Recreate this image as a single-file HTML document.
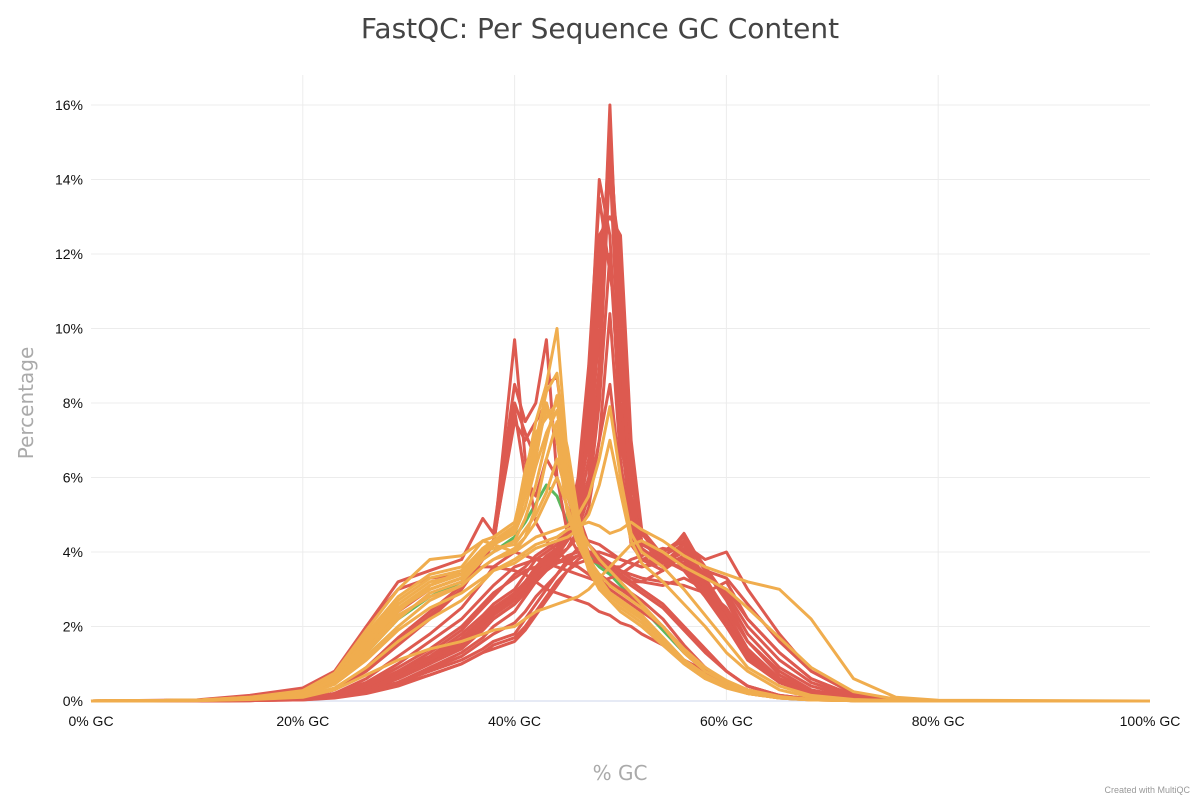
<!DOCTYPE html>
<html><head><meta charset="utf-8"><style>
body{margin:0;background:#fff;font-family:"Liberation Sans",sans-serif}
</style></head><body>
<svg id="chart" width="1200" height="800" xmlns="http://www.w3.org/2000/svg">
<text x="600" y="38" text-anchor="middle" font-size="28" fill="#444" font-family="DejaVu Sans, sans-serif">FastQC: Per Sequence GC Content</text>
<g id="grid"></g><g id="lines"></g><g id="axes"></g>
<text transform="translate(33,403) rotate(-90)" text-anchor="middle" font-size="20" fill="#aaa" font-family="DejaVu Sans, sans-serif">Percentage</text>
<text x="620" y="780" text-anchor="middle" font-size="20" fill="#aaa" font-family="DejaVu Sans, sans-serif">% GC</text>
<text x="1190" y="793" text-anchor="end" font-size="9" fill="#999">Created with MultiQC</text>
</svg>
<script>
const xPts=[0,10,15,20,23,26,29,32,35,37,38,40,41,42,43,44,45,46,47,48,49,50,51,52,54,56,58,60,62,65,68,72,76,80,100];
const xTicks=[0,20,40,60,80,100];
const yTicks=[0,2,4,6,8,10,12,14,16];
const redSeries=[
[0,0,0.02,0.05,0.15,0.4,0.8,1.2,1.8,2.3,2.6,3.0,3.4,3.8,4.0,4.2,4.5,5.0,6.0,9.0,16.0,9.0,5.0,4.0,3.8,3.5,2.8,2.0,1.2,0.5,0.2,0.05,0.02,0,0],
[0,0,0.02,0.05,0.12,0.3,0.6,1.0,1.5,2.0,2.3,2.8,3.1,3.5,3.8,4.0,4.3,4.8,5.8,8.5,14.5,8.0,4.8,4.0,3.6,3.9,3.0,2.2,1.3,0.6,0.2,0.05,0.02,0,0],
[0,0,0.02,0.04,0.1,0.25,0.5,0.9,1.3,1.7,2.0,2.4,2.8,3.2,3.5,3.8,4.1,4.6,5.5,8.0,12.0,7.5,4.5,3.8,3.5,4.3,3.2,2.3,1.4,0.6,0.25,0.06,0.02,0,0],
[0,0,0.02,0.05,0.15,0.35,0.7,1.1,1.6,2.1,2.4,2.9,3.2,3.5,3.7,3.9,4.1,4.4,5.2,7.0,10.4,6.5,4.2,3.8,3.7,4.0,3.0,2.0,1.1,0.5,0.2,0.05,0.02,0,0],
[0,0,0.02,0.05,0.14,0.32,0.65,1.05,1.5,2.0,2.3,2.7,3.0,3.3,3.6,3.9,4.3,5.0,6.5,10.0,15.5,10.0,5.5,4.2,3.9,3.7,2.9,2.1,1.2,0.5,0.2,0.05,0.02,0,0],
[0,0,0.02,0.05,0.13,0.3,0.6,1.0,1.45,1.9,2.2,2.6,2.9,3.3,3.6,3.9,4.4,5.3,7.0,11.0,15.0,11.0,6.0,4.3,3.7,4.1,3.1,2.2,1.3,0.55,0.2,0.05,0.02,0,0],
[0,0,0.02,0.05,0.14,0.34,0.7,1.1,1.6,2.1,2.4,2.8,3.1,3.4,3.7,4.0,4.4,5.5,7.5,12.0,14.0,12.0,6.5,4.5,3.8,3.8,3.0,2.1,1.2,0.5,0.2,0.05,0.02,0,0],
[0,0,0.02,0.05,0.15,0.36,0.72,1.15,1.7,2.2,2.5,2.9,3.2,3.6,3.9,4.1,4.5,5.8,8.0,12.5,13.0,12.5,7.0,4.6,3.9,4.2,3.3,2.4,1.4,0.6,0.22,0.05,0.02,0,0],
[0,0,0.02,0.05,0.14,0.33,0.66,1.1,1.6,2.1,2.4,2.8,3.1,3.5,3.8,4.1,4.6,6.0,9.0,13.5,11.5,9.5,5.5,4.3,3.8,4.0,3.1,2.2,1.3,0.55,0.2,0.05,0.02,0,0],
[0,0,0.02,0.05,0.14,0.33,0.66,1.1,1.6,2.1,2.4,2.8,3.1,3.4,3.7,4.0,4.4,5.6,8.5,14.0,12.5,7.0,5.2,4.1,3.7,3.6,2.9,2.0,1.2,0.5,0.2,0.05,0.02,0,0],
[0,0.02,0.08,0.25,0.6,1.5,2.4,3.0,3.3,3.9,4.2,9.7,6.5,4.8,4.3,4.0,3.8,3.6,3.4,3.2,3.1,3.0,2.9,2.7,2.2,1.5,0.9,0.5,0.25,0.1,0.05,0.02,0.01,0,0],
[0,0.02,0.1,0.3,0.7,2.0,3.2,3.5,3.8,4.9,4.5,8.5,7.5,8.0,9.7,6.0,4.5,4.0,3.7,3.4,3.2,3.0,2.8,2.5,2.0,1.3,0.8,0.4,0.2,0.08,0.03,0.01,0,0,0],
[0,0,0.03,0.1,0.3,0.8,1.5,2.2,3.0,3.8,4.2,8.0,7.2,6.5,8.5,8.7,6.5,5.0,4.2,3.8,3.6,3.4,3.2,3.0,2.6,2.0,1.4,0.8,0.4,0.15,0.05,0.02,0,0,0],
[0,0,0.03,0.1,0.3,0.9,1.7,2.4,3.1,3.9,4.3,7.5,7.0,7.5,8.0,7.0,5.5,4.6,4.0,3.7,3.5,3.3,3.1,2.9,2.5,1.9,1.3,0.8,0.4,0.15,0.05,0.02,0,0,0],
[0,0,0.03,0.1,0.3,0.85,1.6,2.3,3.0,3.8,4.2,7.8,6.0,5.5,6.5,6.0,5.2,4.6,4.2,3.9,3.6,3.4,3.2,3.0,2.6,2.0,1.4,0.8,0.4,0.15,0.05,0.02,0,0,0],
[0,0,0.02,0.05,0.15,0.3,0.5,0.8,1.1,1.4,1.6,1.8,2.2,2.6,3.0,3.4,3.8,4.1,4.3,4.2,4.0,3.8,3.7,3.6,3.8,4.5,3.5,3.3,2.6,1.6,0.8,0.2,0.05,0,0],
[0,0,0.01,0.03,0.1,0.25,0.45,0.7,1.0,1.3,1.4,1.6,1.9,2.3,2.7,3.1,3.5,3.8,4.0,4.0,3.9,3.8,3.7,3.6,3.7,4.2,3.8,4.0,3.0,1.8,0.8,0.2,0.05,0,0],
[0,0,0.02,0.05,0.2,0.6,1.2,1.8,2.5,3.2,3.6,4.0,3.9,3.8,3.7,3.6,3.5,3.4,3.3,3.2,3.3,3.4,3.6,3.8,4.0,4.4,3.6,2.8,1.8,0.9,0.4,0.1,0.03,0,0],
[0,0,0.02,0.06,0.2,0.5,1.0,1.6,2.2,2.8,3.1,3.6,3.7,3.8,3.8,3.8,3.7,3.6,3.4,3.2,3.0,2.8,2.6,2.4,2.0,1.4,0.9,0.5,0.25,0.1,0.04,0.01,0,0,0],
[0,0,0.01,0.04,0.12,0.3,0.6,1.0,1.4,1.9,2.2,2.6,2.9,3.2,3.5,3.7,3.9,4.0,4.0,3.9,3.7,3.5,3.4,3.3,3.2,3.1,2.9,3.2,2.2,1.3,0.6,0.15,0.04,0,0],
[0,0.03,0.15,0.35,0.8,2.0,3.0,3.3,3.4,3.6,3.6,3.5,3.4,3.2,3.0,2.9,2.8,2.7,2.6,2.4,2.3,2.1,2.0,1.8,1.5,1.1,0.8,0.5,0.3,0.12,0.05,0.02,0.01,0,0],
[0,0,0.02,0.05,0.15,0.4,0.8,1.3,1.9,2.5,2.8,3.4,3.6,3.9,4.1,4.3,4.5,4.8,5.5,7.0,8.5,6.0,4.6,4.2,4.0,4.3,3.5,2.7,1.6,0.7,0.25,0.06,0.02,0,0],
[0,0,0.01,0.03,0.08,0.2,0.4,0.7,1.0,1.3,1.5,1.7,2.0,2.4,2.8,3.2,3.5,3.7,3.8,3.7,3.5,3.3,3.2,3.2,3.5,3.9,3.3,3.0,2.2,1.3,0.6,0.15,0.04,0,0],
[0,0,0.01,0.04,0.1,0.25,0.5,0.85,1.2,1.6,1.8,2.1,2.4,2.8,3.1,3.4,3.7,3.9,4.0,3.8,3.6,3.6,3.8,3.9,4.1,4.0,3.4,2.9,2.0,1.1,0.5,0.12,0.03,0,0],
[0,0,0.02,0.06,0.18,0.45,0.9,1.4,2.0,2.6,2.9,3.3,3.5,3.6,3.7,3.7,3.8,3.9,4.0,3.9,3.7,3.5,3.3,3.2,3.1,3.3,3.0,2.5,1.6,0.8,0.3,0.08,0.02,0,0]
];
const orangeSeries=[
[0,0.02,0.08,0.2,0.6,1.6,2.5,3.0,3.3,4.0,4.2,4.5,5.5,6.5,8.0,7.0,5.0,4.2,3.6,3.0,2.8,2.6,2.4,2.2,1.6,1.0,0.6,0.4,0.25,0.1,0.05,0.02,0.01,0,0],
[0,0.02,0.1,0.25,0.7,1.8,2.8,3.4,3.6,4.3,4.4,4.8,6.0,7.5,8.5,10.0,6.5,4.8,3.8,3.2,2.9,2.7,2.5,2.3,1.7,1.1,0.7,0.4,0.2,0.08,0.03,0.01,0,0,0],
[0,0.02,0.08,0.22,0.6,1.5,2.4,3.1,3.5,4.0,4.1,4.2,4.6,5.0,5.6,6.5,5.5,4.7,4.2,3.8,3.5,3.2,2.9,2.6,2.0,1.3,0.8,0.5,0.3,0.1,0.04,0.01,0,0,0],
[0,0.02,0.06,0.15,0.45,1.2,2.0,2.7,3.1,3.6,3.8,4.0,4.2,4.4,4.5,4.6,4.7,5.0,5.5,6.5,7.9,6.0,4.5,4.0,3.6,3.0,2.3,1.6,0.9,0.4,0.15,0.04,0.01,0,0],
[0,0.01,0.05,0.12,0.35,0.9,1.6,2.2,2.7,3.2,3.5,3.8,4.0,4.2,4.3,4.4,4.6,4.7,4.8,4.7,4.5,4.6,4.8,4.6,4.3,3.9,3.6,3.4,3.2,3.0,2.2,0.6,0.1,0.02,0],
[0,0.01,0.04,0.1,0.3,0.7,1.1,1.4,1.6,1.8,1.9,2.0,2.2,2.4,2.5,2.6,2.7,2.8,3.0,3.3,3.6,3.9,4.2,4.3,4.0,3.6,3.3,3.0,2.5,1.7,0.9,0.25,0.05,0,0],
[0,0.02,0.1,0.28,0.75,1.9,3.0,3.8,3.9,4.3,4.2,4.0,4.4,5.2,6.5,7.5,5.8,4.5,3.6,3.1,2.7,2.4,2.2,2.0,1.5,1.0,0.6,0.35,0.2,0.08,0.03,0.01,0,0,0],
[0,0.02,0.07,0.18,0.5,1.3,2.2,2.9,3.2,3.8,4.0,4.3,4.9,5.8,7.0,8.2,6.0,4.4,3.5,3.0,2.7,2.5,2.3,2.1,1.6,1.1,0.7,0.4,0.2,0.08,0.03,0.01,0,0,0],
[0,0.02,0.06,0.16,0.45,1.1,1.9,2.5,2.9,3.3,3.5,3.7,3.9,4.1,4.2,4.3,4.4,4.6,5.0,5.8,7.0,5.6,4.3,3.7,3.2,2.6,2.0,1.3,0.8,0.3,0.1,0.03,0.01,0,0],
[0,0.02,0.08,0.2,0.55,1.4,2.3,2.8,3.1,3.6,3.8,4.1,4.4,4.8,5.4,6.0,5.2,4.4,3.8,3.4,3.1,2.9,2.7,2.5,2.0,1.4,0.9,0.55,0.3,0.12,0.04,0.01,0,0,0],
[0,0.02,0.09,0.24,0.65,1.7,2.7,3.3,3.5,4.1,4.3,4.6,5.8,7.0,8.3,8.8,6.2,4.6,3.7,3.1,2.8,2.6,2.4,2.2,1.6,1.05,0.65,0.4,0.22,0.09,0.04,0.01,0,0,0],
[0,0.02,0.09,0.23,0.62,1.65,2.6,3.2,3.4,4.0,4.3,4.7,6.2,7.2,7.6,8.0,6.8,5.0,3.9,3.3,2.9,2.7,2.5,2.3,1.7,1.1,0.7,0.4,0.22,0.09,0.04,0.01,0,0,0],
[0,0.02,0.08,0.21,0.58,1.55,2.5,3.1,3.4,4.1,4.3,4.5,5.2,6.3,7.2,7.8,6.0,4.7,3.8,3.2,2.9,2.7,2.5,2.3,1.7,1.1,0.7,0.42,0.24,0.1,0.04,0.01,0,0,0],
[0,0.02,0.08,0.2,0.56,1.5,2.45,3.0,3.3,3.9,4.2,4.6,5.6,6.8,7.8,7.2,5.6,4.5,3.7,3.1,2.8,2.6,2.4,2.2,1.6,1.05,0.65,0.4,0.23,0.09,0.04,0.01,0,0,0]
];
const greenSeries=[
[0,0.02,0.07,0.2,0.5,1.3,2.2,2.8,3.2,3.8,4.0,4.4,4.8,5.3,5.8,5.5,4.8,4.3,3.9,3.6,3.4,3.1,2.8,2.5,1.9,1.3,0.8,0.5,0.25,0.1,0.04,0.01,0,0,0]
];
const X0=91,X1=1150,Y0=701,Y1=105;
const xs=v=>X0+(v/100)*(X1-X0);
const ys=v=>Y0-(v/16)*(Y0-Y1);
const NS="http://www.w3.org/2000/svg";
const grid=document.getElementById('grid'),axes=document.getElementById('axes'),lines=document.getElementById('lines');
function mk(tag,attrs,parent){const e=document.createElementNS(NS,tag);for(const k in attrs)e.setAttribute(k,attrs[k]);parent.appendChild(e);return e;}
yTicks.forEach(t=>{
 const l=mk('line',{x1:X0,x2:X1,y1:ys(t),y2:ys(t),stroke:t===0?'#ccd6eb':'#ececec','stroke-width':1},grid);
 
 
 const tx=mk('text',{x:X0-8,y:ys(t)+5,'text-anchor':'end','font-size':14,fill:'#111'},axes);
 tx.textContent=t+'%';
 
 
});
xTicks.forEach(t=>{
 if(t>0&&t<100){const l=mk('line',{x1:xs(t),x2:xs(t),y1:Y1-30,y2:Y0,stroke:'#ececec','stroke-width':1},grid);
 
 }
 const tx=mk('text',{x:xs(t),y:Y0+25,'text-anchor':'middle','font-size':14,fill:'#111'},axes);
 tx.textContent=t+'% GC';
 
 
});
function draw(series,color,name){
 series.forEach(s=>{
  const d=s.map((v,i)=>(i?'L':'M')+xs(xPts[i]).toFixed(1)+','+ys(v).toFixed(1)).join('');
  const p=mk('path',{d:d,fill:'none',stroke:color,'stroke-width':3,'stroke-linejoin':'round'},lines);
  
  
 });
}
draw(greenSeries,'#5cb85c','sample-line-pass');
draw(redSeries,'#dd5a50','sample-line-fail');
draw(orangeSeries,'#f0ad4e','sample-line-warn');
</script>
</body></html>
